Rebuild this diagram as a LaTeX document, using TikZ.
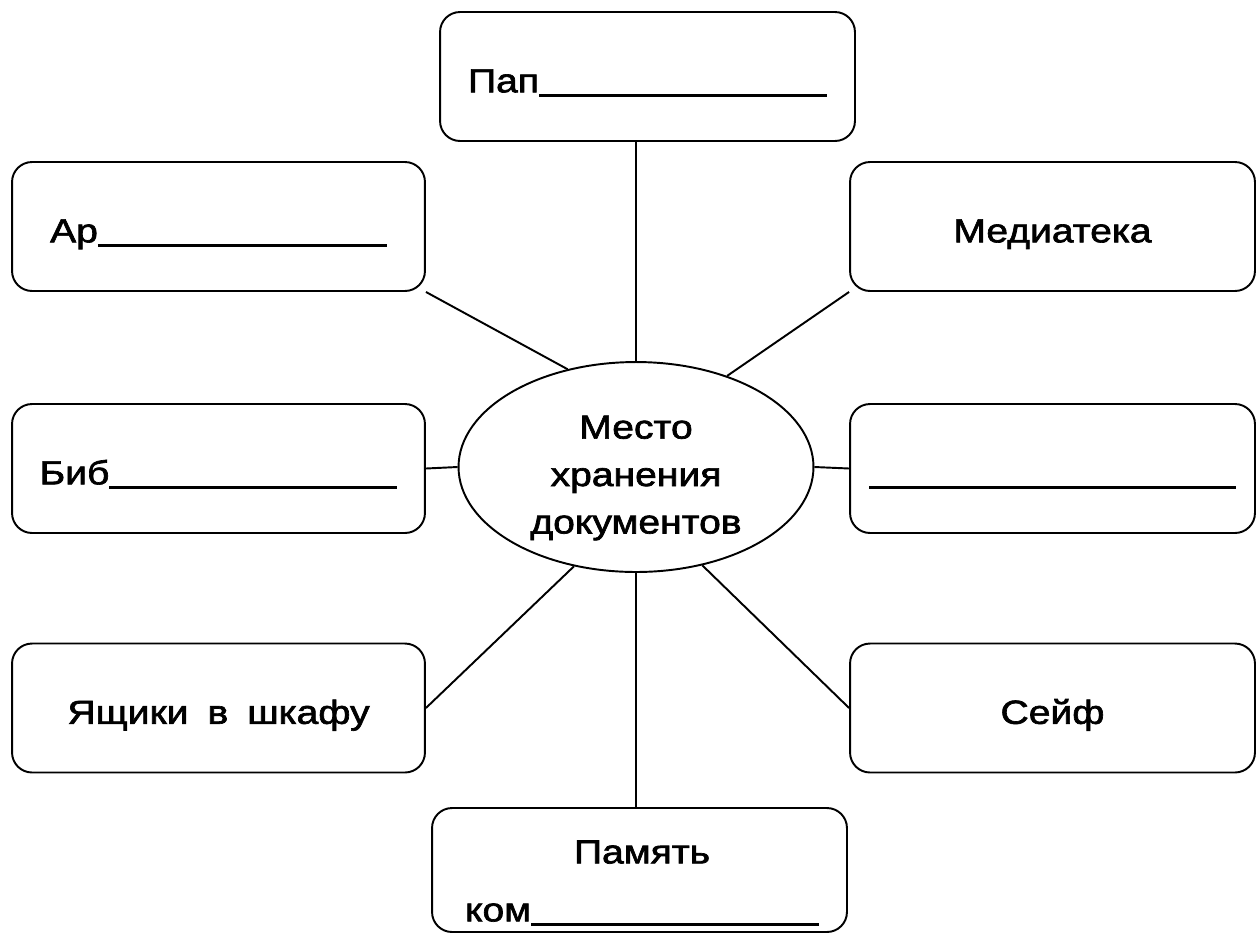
\documentclass[tikz,border=0pt]{standalone}
\usepackage{fontspec}
\setmainfont{Liberation Sans}[FakeBold=2,FakeStretch=1.17]
\usepackage{tikz}
\usetikzlibrary{shapes.geometric}
\newcommand{\blank}[1]{\rule[-2.4pt]{#1}{1.4pt}}

\begin{document}
\begin{tikzpicture}
  [x=0.02cm,y=-0.02cm,line width=1.1pt,
   every node/.style={font=\fontsize{19}{27}\selectfont},
   box/.style={draw,rounded corners=0.4cm,minimum width=8.26cm,minimum height=2.58cm,inner sep=0pt,text height=18pt,text depth=0pt}]
  \useasboundingbox (0,0) rectangle (1257,934);
  \node[draw,ellipse,minimum width=7.1cm,minimum height=4.2cm,inner sep=0pt] (centre) at (636,467) {};
  \node[align=center,inner sep=0pt] (centretext) at (636,478) {Место\\хранения\\документов};
  \node[box,minimum width=8.3cm] (pap) at (647.5,76.5) {Пап\blank{5.76cm}};
  \node[box] (ar) at (218.5,226.5) {Ар\blank{5.78cm}};
  \node[box,minimum width=8.1cm] (media) at (1052.5,226.5) {Медиатека};
  \node[box] (bib) at (218.5,468.5) {Биб\blank{5.76cm}};
  \node[box,minimum width=8.1cm] (empty) at (1052.5,468.5) {\blank{7.34cm}};
  \node[box] (yash) at (218.5,708) {Ящики\hspace{0.57em}в\hspace{0.57em}шкафу};
  \node[box,minimum width=8.1cm] (seif) at (1052.5,708) {Сейф};
  \node[box,minimum width=8.3cm,minimum height=2.48cm] (pam) at (639.5,870) {};
  \node[align=center,inner sep=0pt] (pamtext) at (642,883) {Память\\[6pt]ком\blank{5.76cm}};
  \draw (centre.north) -- (centre.north |- pap.south);
  \draw (centre.south) -- (centre.south |- pam.north);
  \foreach \from/\to in {ar.south east/centre.125,media.south west/centre.45,bib.east/centre.west,empty.west/centre.east,yash.east/centre.238,seif.west/centre.304}
    \draw (\from) -- (\to);
\end{tikzpicture}
\end{document}
